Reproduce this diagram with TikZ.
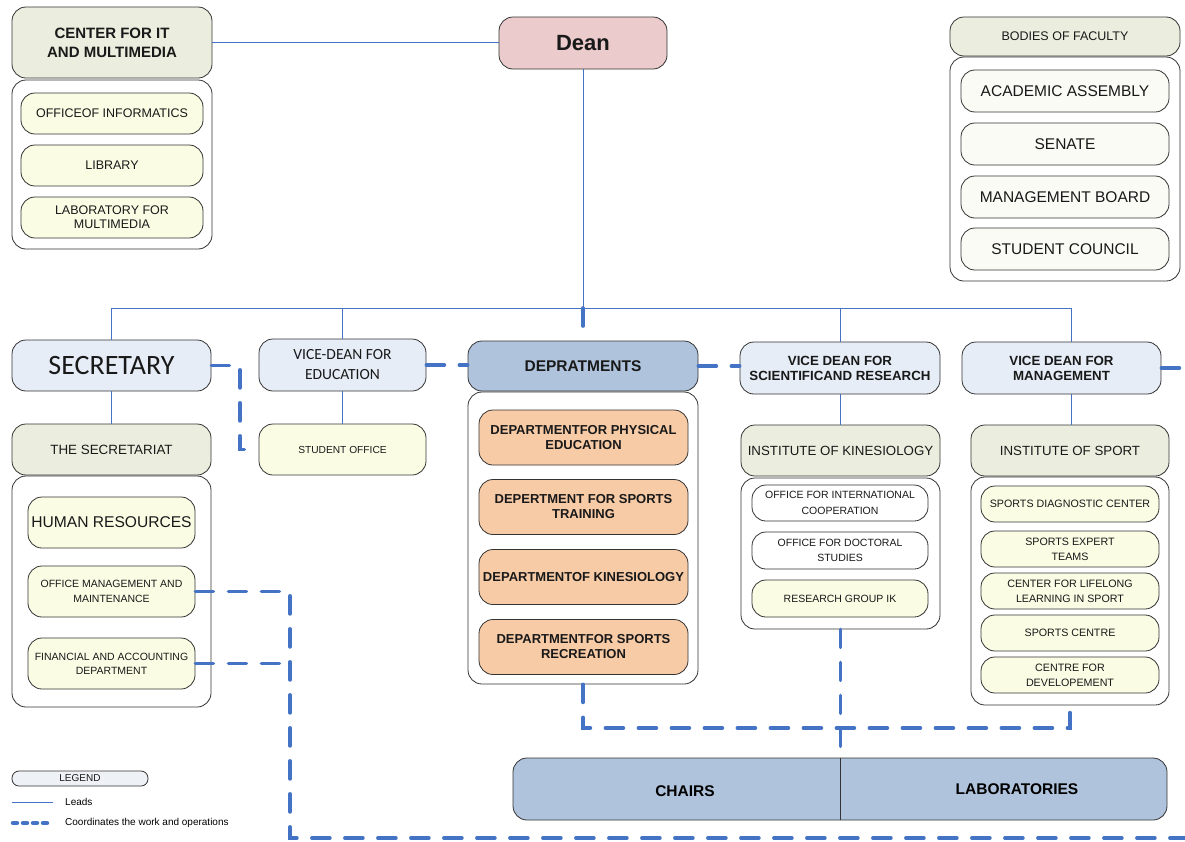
\documentclass[tikz,border=0pt]{standalone}
\usepackage{fontspec}
\setmainfont{Liberation Sans}
\newfontfamily\calfont{Carlito}
\usetikzlibrary{calc}

\definecolor{leadblue}{HTML}{4472C4}
\definecolor{headgreen}{HTML}{EBEEDE}
\definecolor{itemyellow}{HTML}{FAFCE4}
\definecolor{paleblue}{HTML}{E6EDF7}
\definecolor{steelblue}{HTML}{B0C3DC}
\definecolor{peach}{HTML}{F8CBA7}
\definecolor{deanpink}{HTML}{EBCBCB}
\definecolor{boardwhite}{HTML}{FBFBF6}
\definecolor{legendgray}{HTML}{EEF1F6}

\tikzset{
  dims/.style 2 args={minimum width=#1pt, minimum height=#2pt},
  unit/.style={draw=black!80, line width=0.8pt, rounded corners=14pt, inner sep=0pt, align=center, text=black!90},
  head/.style={unit, fill=headgreen},
  item/.style={unit, fill=itemyellow},
  holder/.style={unit, fill=white},
  office/.style={unit, fill=paleblue},
  dept/.style={unit, fill=peach, font=\bfseries\fontsize{13}{15}\selectfont},
  lead/.style={draw=leadblue, line width=0.8pt},
  coord/.style={draw=leadblue, line width=3.6pt, dash pattern=on 18pt off 15pt, line cap=round},
}

\begin{document}
\begin{tikzpicture}[x=1pt, y=-1pt]
    \useasboundingbox (0,0) rectangle (1185,841);
    % top row: it centre, dean, bodies of faculty
    \node[head, dims={200}{71}, font=\bfseries\fontsize{15}{19}\selectfont] (cit) at (112,42.5) {CENTER FOR IT\\AND MULTIMEDIA};
    \node[holder, dims={200}{169}] (citbox) at (112,164.5) {};
    \node[item, dims={182}{41}, font=\fontsize{12.5}{15}\selectfont] (oinf) at (112,113.5) {OFFICEOF INFORMATICS};
    \node[item, dims={182}{41}, font=\fontsize{12.5}{15}\selectfont] (lib) at (112,165.5) {LIBRARY};
    \node[item, dims={182}{41}, font=\fontsize{12.5}{14}\selectfont] (labm) at (112,217.5) {LABORATORY FOR\\MULTIMEDIA};
    \node[unit, fill=deanpink, dims={168}{52}, font=\bfseries\fontsize{22}{26}\selectfont] (dean) at (583,43) {Dean};
    \node[head, dims={230}{39}, font=\fontsize{12.5}{15}\selectfont] (bof) at (1065,36.5) {BODIES OF FACULTY};
    \node[holder, dims={230}{224}] (bofbox) at (1065,169) {};
    \foreach \y/\nm/\txt in {91/aca/ACADEMIC ASSEMBLY, 144/sen/SENATE, 197/mgb/MANAGEMENT BOARD, 249/stc/STUDENT COUNCIL}
        \node[unit, fill=boardwhite, dims={208}{42}, font=\fontsize{15.5}{18}\selectfont] (\nm) at (1065,\y) {\txt};

    % second row: secretary and vice-deans
    \node[office, dims={199}{51}, font=\calfont\fontsize{28}{30}\selectfont] (sec) at (111.5,365.5) {SECRETARY};
    \node[office, dims={167}{52}, font=\calfont\fontsize{15.5}{20}\selectfont] (vde) at (342.5,365) {VICE-DEAN FOR\\EDUCATION};
    \node[unit, fill=steelblue, dims={230}{50}, font=\bfseries\fontsize{15.5}{18}\selectfont] (dep) at (583,366) {DEPRATMENTS};
    \node[office, dims={200}{52}, font=\bfseries\fontsize{13.3}{15}\selectfont] (vds) at (840,368) {VICE DEAN FOR\\SCIENTIFICAND RESEARCH};
    \node[office, dims={199}{52}, font=\bfseries\fontsize{13.3}{15}\selectfont] (vdm) at (1061.5,368) {VICE DEAN FOR\\MANAGEMENT};

    % secretariat
    \node[head, dims={199}{51}, font=\fontsize{13.4}{16}\selectfont] (ss) at (111.5,449.5) {THE SECRETARIAT};
    \node[holder, dims={199}{231}] (secbox) at (111.5,591.5) {};
    \node[item, dims={167}{51}, font=\fontsize{15.6}{18}\selectfont] (hr) at (111.5,522.5) {HUMAN RESOURCES};
    \node[item, dims={167}{51}, font=\fontsize{10.5}{15}\selectfont] (omm) at (111.5,591.5) {OFFICE MANAGEMENT AND\\MAINTENANCE};
    \node[item, dims={167}{51}, font=\fontsize{10.5}{14}\selectfont] (fad) at (111.5,663.5) {FINANCIAL AND ACCOUNTING\\DEPARTMENT};
    \node[item, dims={167}{51}, font=\fontsize{10.2}{12}\selectfont] (so) at (342.5,449.5) {STUDENT OFFICE};

    % departments
    \node[holder, dims={230}{292}] (depbox) at (583,538) {};
    \node[dept, dims={209}{55}] (dpe) at (583.5,437.5) {DEPARTMENTFOR PHYSICAL\\EDUCATION};
    \node[dept, dims={209}{55}] (dst) at (583.5,507) {DEPERTMENT FOR SPORTS\\TRAINING};
    \node[dept, dims={209}{55}] (dki) at (583.5,577) {DEPARTMENTOF KINESIOLOGY};
    \node[dept, dims={209}{55}] (dsr) at (583.5,647) {DEPARTMENTFOR SPORTS\\RECREATION};

    % institute of kinesiology
    \node[head, dims={199}{51}, font=\fontsize{13.3}{16}\selectfont] (iok) at (840.5,450.5) {INSTITUTE OF KINESIOLOGY};
    \node[holder, dims={199}{151}] (iokbox) at (840.5,553.5) {};
    \node[holder, dims={176}{36}, font=\fontsize{10.5}{16}\selectfont] (oic) at (840,503) {OFFICE FOR INTERNATIONAL\\COOPERATION};
    \node[holder, dims={176}{37}, font=\fontsize{10.5}{15}\selectfont] (ods) at (840,550.5) {OFFICE FOR DOCTORAL\\STUDIES};
    \node[item, dims={176}{37}, font=\fontsize{10.5}{12}\selectfont] (rgi) at (840,598.5) {RESEARCH GROUP IK};

    % institute of sport
    \node[head, dims={198}{51}, font=\fontsize{13.3}{16}\selectfont] (ios) at (1070,450.5) {INSTITUTE OF SPORT};
    \node[holder, dims={198}{228}] (iosbox) at (1070,591) {};
    \foreach \y/\nm/\txt in {504/sdc/SPORTS DIAGNOSTIC CENTER, 549/spe/SPORTS EXPERT\\TEAMS, 591/cll/CENTER FOR LIFELONG\\LEARNING IN SPORT, 633/sce/SPORTS CENTRE, 675/cde/CENTRE FOR\\DEVELOPEMENT}
        \node[item, dims={178}{36}, font=\fontsize{10.7}{15}\selectfont] (\nm) at (1070,\y) {\txt};

    % chairs and laboratories
    \node[unit, fill=steelblue, dims={654}{62}] (bar) at (840,789) {};
    \node[font=\bfseries\fontsize{15.5}{18}\selectfont] (chairs) at (685,791) {CHAIRS};
    \node[font=\bfseries\fontsize{15.5}{18}\selectfont] (labs) at (1017,789) {LABORATORIES};

    % legend
    \node[unit, fill=legendgray, rounded corners=7pt, dims={136}{15}, font=\fontsize{10}{12}\selectfont] (legend) at (80,778.5) {\raisebox{-2pt}{LEGEND}};
    \coordinate (leadA) at (12,802);
    \coordinate (leadB) at (53,802);
    \coordinate (coordA) at (13,823);
    \coordinate (coordB) at (52,823);
    \node[anchor=west, inner sep=0pt, font=\fontsize{10}{12}\selectfont] (leadtxt) at (65,802) {Leads};
    \node[anchor=west, inner sep=0pt, font=\fontsize{10}{12}\selectfont] (coordtxt) at (65,823) {Coordinates the work and operations};
    \draw[lead] (leadA) -- (leadB);
    \draw[leadblue, line width=4.5pt, line cap=round, dash pattern=on 4pt off 6pt] (coordA) -- (coordB);

    % leads
    \coordinate (busL) at (111.5,308);
    \coordinate (busD) at (583,308);
    \coordinate (busR) at (1071,308);
    \draw[lead] (cit.east) -- (cit.east -| dean.west);
    \draw[lead] (dean.south) -- (busD);
    \draw[lead] (busL) -- (busR);
    \draw[lead] (busL) -- (sec.north);
    \draw[lead] (vde.north |- busL) -- (vde.north);
    \draw[lead] (vds.north |- busL) -- (vds.north);
    \draw[lead] (busR) -- (busR |- vdm.north);
    \draw[lead] (sec.south) -- (ss.north);
    \draw[lead] (vde.south) -- (so.north);
    \draw[lead] (vds.south) -- (vds.south |- iok.north);
    \draw[lead] (busR |- vdm.south) -- (busR |- ios.north);

    % coordination
    \coordinate (secturn) at (240,365.5);
    \coordinate (soturn) at (240,449.5);
    \coordinate (ommturn) at (290,591.5);
    \coordinate (fadturn) at (290,663.5);
    \coordinate (floorturn) at (290,838);
    \coordinate (floorend) at (1185,838);
    \coordinate (edgeR) at (1185,368);
    \coordinate (depturn) at (583,728);
    \coordinate (iosturn) at (1070,728);
    \draw[coord] (busD) -- (dep.north);
    \draw[coord] (sec.east) -- (secturn) -- (soturn) -- (so.west);
    \draw[coord] (vde.east) -- (vde.east -| dep.west);
    \draw[coord] (dep.east) -- (dep.east -| vds.west);
    \draw[coord] (vdm.east) -- (edgeR);
    \draw[coord] (omm.east) -- (ommturn) -- (floorturn) -- (floorend);
    \draw[coord] (fad.east) -- (fadturn);
    \draw[coord] (depbox.south) -- (depturn) -- (iosturn) -- (iosbox.south);
    \draw[coord] (iokbox.south) -- (iokbox.south |- bar.north);
    \draw[black!80, line width=0.8pt] (bar.north -| iokbox.south) -- (bar.south -| iokbox.south);
\end{tikzpicture}
\end{document}
